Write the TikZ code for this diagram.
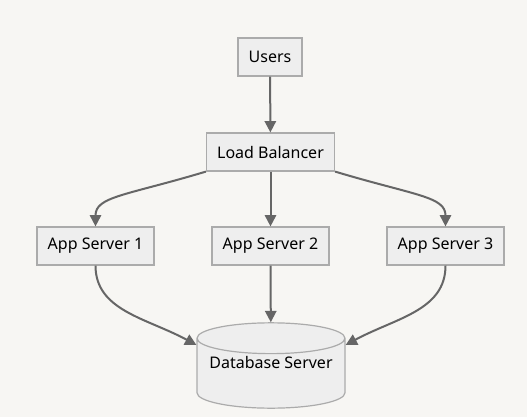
\documentclass[tikz,border=0pt]{standalone}
\usepackage{fontspec}
\setmainfont{Noto Sans}
\usetikzlibrary{shapes.geometric,arrows.meta}
\definecolor{sfondo}{HTML}{F7F6F3}
\definecolor{riempi}{HTML}{EEEEEE}
\definecolor{bordo}{HTML}{ABABAB}
\definecolor{freccia}{HTML}{666666}
\begin{document}
\begin{tikzpicture}[x=0.75pt,y=-0.75pt,
    box/.style={rectangle, draw=bordo, fill=riempi, line width=0.9pt, minimum height=28.5pt, inner xsep=8pt, font=\fontsize{12pt}{14pt}\selectfont},
    db/.style={cylinder, shape border rotate=90, draw=bordo, fill=riempi, line width=0.9pt, minimum width=111pt, minimum height=64pt, aspect=0.25, inner sep=0pt, text depth=16.5pt, font=\fontsize{12pt}{14pt}\selectfont},
    arco/.style={draw=freccia, line width=1.5pt, -{Triangle[length=8.5pt,width=8.5pt]}}]
        \fill[sfondo] (0,0) rectangle (527,417);
        %%%%%%%%%% Nodi %%%%%%%%%%
        \node[box] (U)  at (270,57)    {Users};
        \node[box] (LB) at (270.5,152) {Load Balancer};
        \node[box] (S1) at (95.5,246)  {App Server 1};
        \node[box] (S2) at (270.5,246) {App Server 2};
        \node[box] (S3) at (445.5,246) {App Server 3};
        \node[db]  (DB) at (271,373.5) {Database Server};

        %%%%%%%%% Archi %%%%%%%%%%
        \draw[arco] (U) -- (LB);
        \draw[arco] (LB.south west) .. controls +(-80,24) and +(0,-30) .. (S1.north);
        \draw[arco] (LB) -- (S2);
        \draw[arco] (LB.south east) .. controls +(80,24) and +(0,-30) .. (S3.north);
        \draw[arco] (S1.south) .. controls +(0,45) and +(-50,-27) .. ([yshift=21.4pt]DB.west);
        \draw[arco] (S2) -- (DB);
        \draw[arco] (S3.south) .. controls +(0,45) and +(50,-27) .. ([yshift=21.4pt]DB.east);
    \end{tikzpicture}
\end{document}
